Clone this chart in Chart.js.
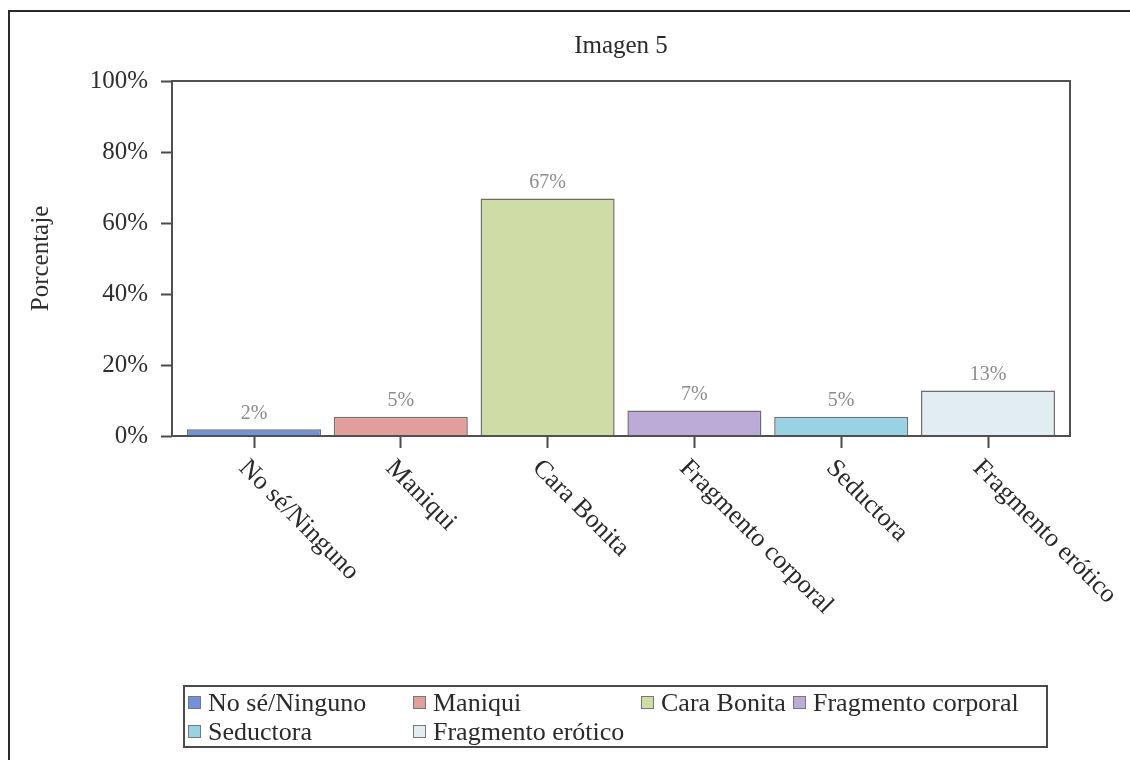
<!DOCTYPE html>
<html>
<head>
<meta charset="utf-8">
<script src="https://cdn.jsdelivr.net/npm/chart.js@4.4.1/dist/chart.umd.min.js"></script>
<style>
  html, body { margin: 0; padding: 0; background: #ffffff; }
  #wrap { position: relative; width: 1130px; height: 760px; overflow: hidden; background: #fff; }
  #frame { position: absolute; left: 8px; top: 10px; width: 1300px; height: 900px;
           border-left: 2.5px solid #2a2a2a; border-top: 2.5px solid #2a2a2a; box-sizing: border-box; }
  canvas { position: absolute; left: 0; top: 0; }
  #legend { position: absolute; left: 183px; top: 685px; width: 865px; height: 63px; box-sizing: border-box;
            border: 2px solid #4a4a4a; padding: 1px 0 0 3px;
            font-family: 'Liberation Serif', 'Times New Roman', serif; font-size: 26px; color: #2a2a2a;
            display: grid; grid-template-columns: 225px 228px 152px auto; justify-content: start;
            column-gap: 0; row-gap: 0; line-height: 29px; }
  .item { display: flex; align-items: center; white-space: nowrap; }
  .sw { display: inline-block; width: 11px; height: 11px; border: 1px solid #777; margin-right: 7px; }
</style>
</head>
<body>
<div id="wrap">
  <div id="frame"></div>
  <canvas id="c" width="1130" height="760"></canvas>
  <div id="legend"></div>
</div>
<script>
const chartTitle = 'Imagen 5';
const yAxisTitle = 'Porcentaje';
const categories = ['No sé/Ninguno', 'Maniqui', 'Cara Bonita', 'Fragmento corporal', 'Seductora', 'Fragmento erótico'];
const percentages = [1.9, 5.4, 66.9, 7.2, 5.4, 12.8];
const barColors = ['#7291d8', '#e29e9a', '#cfdca6', '#bcaad7', '#98d3e3', '#e2edf1'];
const yTickValues = [0, 20, 40, 60, 80, 100];

const SERIF = "'Liberation Serif', 'Times New Roman', serif";

// HTML legend
const legendEl = document.getElementById('legend');
categories.forEach((name, i) => {
  const it = document.createElement('div');
  it.className = 'item';
  const sw = document.createElement('span');
  sw.className = 'sw';
  sw.style.background = barColors[i];
  it.appendChild(sw);
  it.appendChild(document.createTextNode(name));
  legendEl.appendChild(it);
});

const insetPlugin = {
  id: 'insetX',
  afterLayout(chart) {
    const x = chart.scales.x;
    const inset = 8.6;
    x._startPixel += inset;
    x._endPixel -= inset;
    x._length = x._endPixel - x._startPixel;
  }
};

const decorPlugin = {
  id: 'decor',
  afterDatasetsDraw(chart) {
    const ctx = chart.ctx;
    const a = chart.chartArea;
    ctx.save();
    // plot frame
    ctx.strokeStyle = '#505050';
    ctx.lineWidth = 2;
    ctx.strokeRect(a.left, a.top, a.right - a.left, a.bottom - a.top);
    // value labels
    const meta = chart.getDatasetMeta(0);
    ctx.fillStyle = '#8c8c8c';
    ctx.font = '20px ' + SERIF;
    ctx.textAlign = 'center';
    ctx.textBaseline = 'bottom';
    meta.data.forEach((el, i) => {
      ctx.fillText(Math.round(percentages[i]) + '%', el.x, el.y - 6);
    });
    ctx.restore();
  },
  afterDraw(chart) {
    const ctx = chart.ctx;
    const a = chart.chartArea;
    const xs = chart.scales.x;
    ctx.save();
    // title
    ctx.fillStyle = '#2a2a2a';
    ctx.font = '25px ' + SERIF;
    ctx.textAlign = 'center';
    ctx.textBaseline = 'middle';
    ctx.fillText(chartTitle, (a.left + a.right) / 2, 46);
    // rotated category labels
    ctx.font = '26px ' + SERIF;
    ctx.textAlign = 'left';
    ctx.textBaseline = 'top';
    categories.forEach((name, i) => {
      const px = xs.getPixelForValue(i);
      ctx.save();
      ctx.translate(px - 2, a.bottom + 19);
      ctx.rotate(Math.PI / 4);
      ctx.fillText(name, 0, 0);
      ctx.restore();
    });
    ctx.restore();
  }
};

Chart.defaults.font.family = SERIF;

new Chart(document.getElementById('c'), {
  type: 'bar',
  data: {
    labels: categories,
    datasets: [{
      data: percentages,
      backgroundColor: barColors,
      borderColor: '#6e6e6e',
      borderWidth: 1.5,
      categoryPercentage: 1,
      barPercentage: 0.913
    }]
  },
  plugins: [insetPlugin, decorPlugin],
  options: {
    responsive: false,
    animation: false,
    devicePixelRatio: 1,
    layout: { padding: { top: 81, right: 60, bottom: 0, left: 0 } },
    plugins: {
      legend: { display: false },
      title: { display: false },
      tooltip: { enabled: false }
    },
    scales: {
      x: {
        type: 'category',
        offset: true,
        border: { display: false },
        grid: { display: true, drawOnChartArea: false, drawTicks: true, offset: false,
                tickLength: 12, tickColor: '#4a4a4a', tickWidth: 2 },
        ticks: { display: false },
        afterFit(scale) { scale.height = 760 - 436; }
      },
      y: {
        min: 0,
        max: 100,
        border: { display: false },
        grid: { display: true, drawOnChartArea: false, drawTicks: true,
                tickLength: 11, tickColor: '#4a4a4a', tickWidth: 2 },
        afterBuildTicks(scale) { scale.ticks = yTickValues.map(v => ({ value: v })); },
        ticks: {
          padding: 13,
          color: '#2f2f2f',
          font: { size: 25, family: SERIF },
          callback: (v) => v + '%'
        },
        title: {
          display: true,
          text: yAxisTitle,
          color: '#2f2f2f',
          font: { size: 25, family: SERIF },
          padding: { top: 26, bottom: 4 }
        },
        afterFit(scale) { scale.width = 172; }
      }
    }
  }
});
</script>
</body>
</html>
